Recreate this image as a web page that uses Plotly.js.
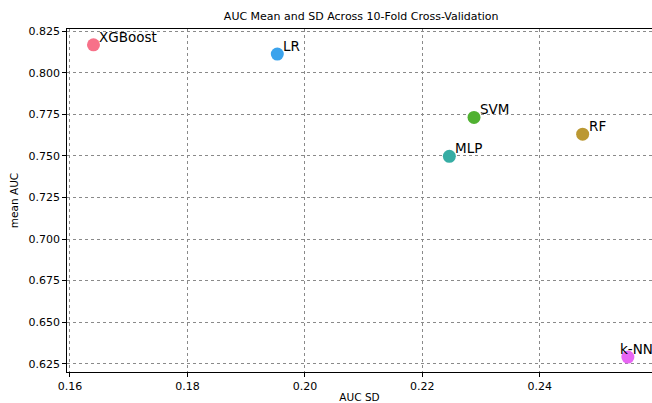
<!DOCTYPE html>
<html>
<head>
<meta charset="utf-8">
<script src="https://cdn.plot.ly/plotly-3.0.1.min.js"></script>
<style>html,body{margin:0;padding:0;background:#fff;}#chart{width:652px;height:403px;}</style>
</head>
<body>
<div id="chart"></div>
<script>
// Data
const models = ["XGBoost", "LR", "SVM", "MLP", "RF", "k-NN"];
const aucSD = [0.1640, 0.1953, 0.2288, 0.2246, 0.2473, 0.2550];
const aucMean = [0.8169, 0.8113, 0.7732, 0.7498, 0.7631, 0.6290];
const colors = ["#f77189", "#3ba3ec", "#50b131", "#36ada4", "#bb9832", "#e866f4"];

const FONT = "DejaVu Sans, Liberation Sans, sans-serif";

const traces = models.map((m, i) => ({
  type: "scatter",
  mode: "markers",
  x: [aucSD[i]],
  y: [aucMean[i]],
  name: m,
  cliponaxis: false,
  marker: { size: 13, color: colors[i], line: { width: 0 } },
  hoverinfo: "text",
  text: [m]
}));

const labelXShift = { "k-NN": -10 };
const annotations = models.map((m, i) => ({
  x: aucSD[i],
  y: aucMean[i],
  xref: "x",
  yref: "y",
  text: m,
  showarrow: false,
  xanchor: "left",
  yanchor: "bottom",
  xshift: (labelXShift[m] !== undefined ? labelXShift[m] : 4),
  yshift: -2,
  font: { family: FONT, size: 13.5, color: "#000" }
}));

const layout = {
  width: 652,
  height: 403,
  margin: { l: 67, r: 0, t: 29, b: 31 },
  paper_bgcolor: "#fff",
  plot_bgcolor: "#fff",
  showlegend: false,
  font: { family: FONT, color: "#000" },
  title: {
    text: "AUC Mean and SD Across 10-Fold Cross-Validation",
    font: { family: FONT, size: 11, color: "#000" },
    x: 0.554, xanchor: "center",
    y: 1, yref: "container", yanchor: "top", pad: { t: 12.5 }
  },
  xaxis: {
    range: [0.15949, 0.25911],
    dtick: 0.02, tick0: 0.16,
    tickformat: ".2f",
    ticks: "outside", ticklen: 3.5, tickwidth: 1, tickcolor: "#000",
    tickfont: { family: FONT, size: 11, color: "#000" },
    showline: true, linecolor: "#000", linewidth: 1.2, mirror: true,
    showgrid: true, gridcolor: "#8a8a8a", gridwidth: 1, griddash: "dot",
    zeroline: false,
    title: { text: "AUC SD", font: { family: FONT, size: 10.5, color: "#000" }, standoff: 8 }
  },
  yaxis: {
    range: [0.6200, 0.8264],
    dtick: 0.025, tick0: 0.625,
    tickformat: ".3f",
    ticks: "outside", ticklen: 3.5, tickwidth: 1, tickcolor: "#000",
    tickfont: { family: FONT, size: 11, color: "#000" },
    showline: true, linecolor: "#000", linewidth: 1.2, mirror: false,
    showgrid: true, gridcolor: "#8a8a8a", gridwidth: 1, griddash: "dot",
    zeroline: false,
    title: { text: "mean AUC", font: { family: FONT, size: 10.5, color: "#000" }, standoff: 8 }
  },
  annotations: annotations
};

Plotly.newPlot("chart", traces, layout, { displayModeBar: false, staticPlot: true });
</script>
</body>
</html>
